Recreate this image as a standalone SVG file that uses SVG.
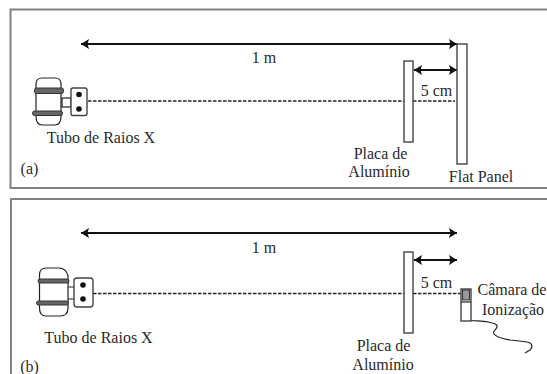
<svg xmlns="http://www.w3.org/2000/svg" width="547" height="374" viewBox="0 0 547 374">
<style>
text{font-family:"Liberation Serif",serif;font-size:16px;fill:#2a2a2a;text-anchor:middle}
.fr{fill:none;stroke:#808080;stroke-width:2}
.ln{fill:none;stroke:#222;stroke-width:1.2}
.pl{fill:#fff;stroke:#444;stroke-width:1.4}
.dim{stroke:#111;stroke-width:2;fill:none;marker-start:url(#a);marker-end:url(#b)}
.ds{stroke:#222;stroke-width:1.5;stroke-dasharray:3.500 1.500;fill:none}
.bd{fill:#666;stroke:#333;stroke-width:1}
</style>
<defs>
<marker id="b" markerUnits="userSpaceOnUse" markerWidth="9" markerHeight="10" refX="8" refY="5" orient="auto"><path d="M0 0L8 5L0 10L1.5 5Z" fill="#111"/></marker>
<marker id="a" markerUnits="userSpaceOnUse" markerWidth="9" markerHeight="10" refX="0" refY="5" orient="auto"><path d="M8 0L0 5L8 10L6.500 5Z" fill="#111"/></marker>
</defs>
<rect width="547" height="374" fill="#fff"/>
<g id="frame-a"><path class="fr" d="M547 9.500H10.500V188H547"/></g>
<g id="frame-b"><path class="fr" d="M547 199H11V374"/></g>
<g id="connectors">
<path class="ds" d="M88 101H455"/>
<path class="dim" d="M81 44H457"/>
<path class="dim" d="M414 70H457"/>
<path class="ds" d="M93 293.500H461"/>
<path class="dim" d="M81 233H457"/>
<path class="dim" d="M414 260H457"/>
<path class="ln" d="M471 320.500C476 321 483 321 488 322C493 323 498 324 497 327C496 330 492 331 494 334C497 338 505 339 510 340C517 341 525 341 530 343C533 345 532 348 530 350L525 353"/>
</g>
<g id="tube-a">
<path class="ln" d="M36 116V84Q36 78 42 78H55Q61 78 61 84V116Q61 125 55 125H42Q36 125 36 116Z" fill="#fff"/>
<rect class="bd" x="34.500" y="88" width="29" height="5.500" rx="2"/>
<rect class="bd" x="32.500" y="111" width="30" height="4.500" rx="2" fill="#888"/>
<rect class="ln" x="62" y="98" width="9" height="9"/>
<rect class="pl" x="71" y="88" width="16" height="27.500" rx="2"/>
<circle cx="79" cy="94.500" r="2.800" fill="#111"/><circle cx="79" cy="109" r="2.800" fill="#111"/>
</g>
<g id="tube-b">
<path class="ln" d="M39.500 308V275Q39.500 268 46 268H59Q66 268 68 276V308Q68 316 60 316H46Q39.500 316 39.500 308Z" fill="#fff"/>
<rect class="bd" x="38" y="279" width="31" height="4" rx="2"/>
<rect class="bd" x="36.500" y="301" width="32" height="4" rx="2"/>
<path class="ln" d="M68 287H74M68 299H74"/>
<rect class="pl" x="74" y="278" width="19" height="29" rx="3"/>
<circle cx="83" cy="285" r="2.800" fill="#111"/><circle cx="83" cy="299" r="2.800" fill="#111"/>
</g>
<g id="plate-a"><rect class="pl" x="404" y="61" width="9" height="81"/></g>
<g id="panel-a"><rect class="pl" x="457" y="44" width="10" height="120"/></g>
<g id="plate-b"><rect class="pl" x="404" y="252" width="9" height="81"/></g>
<g id="chamber"><rect class="pl" x="461" y="289" width="10" height="32"/><rect x="462.500" y="290" width="7" height="10" fill="#999" stroke="#333"/><path class="ln" d="M461 302H471"/></g>
<g id="labels">
<text x="264" y="63">1 m</text>
<text x="436.500" y="96">5 cm</text>
<text x="101" y="143">Tubo de Raios X</text>
<text x="29.500" y="174">(a)</text>
<text x="380.500" y="159">Placa de</text>
<text x="379" y="177">Alumínio</text>
<text x="481" y="182">Flat Panel</text>
<text x="264" y="253">1 m</text>
<text x="436.500" y="288">5 cm</text>
<text x="98.500" y="343">Tubo de Raios X</text>
<text x="29.500" y="372">(b)</text>
<text x="383.500" y="351">Placa de</text>
<text x="383" y="370">Alumínio</text>
<text x="512" y="295">Câmara de</text>
<text x="513" y="315">Ionização</text>
</g>
</svg>
